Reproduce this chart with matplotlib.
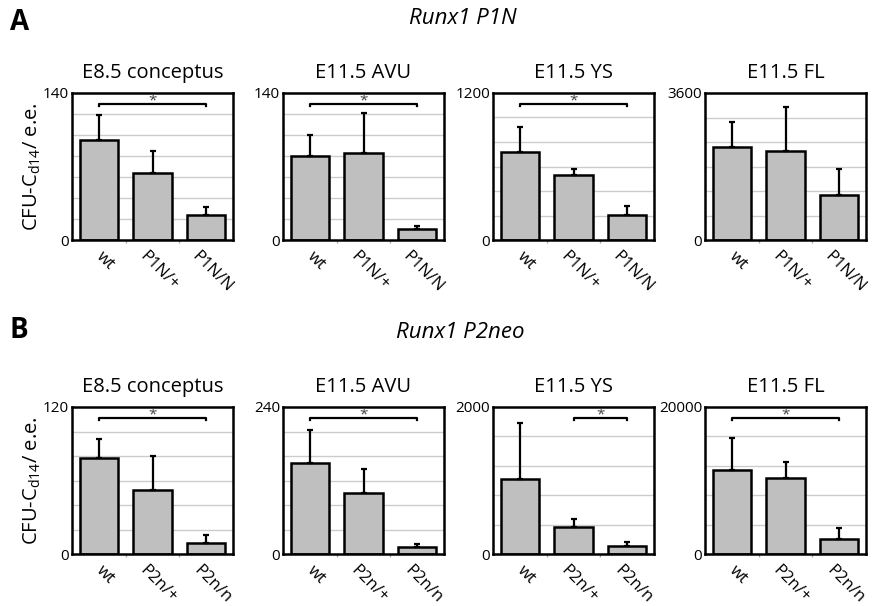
import matplotlib
matplotlib.use("Agg")
import matplotlib.pyplot as plt
import matplotlib.transforms as mtransforms
import numpy as np

plt.rcParams['font.family'] = ['Open Sans', 'DejaVu Sans']

titles = ["E8.5 conceptus", "E11.5 AVU", "E11.5 YS", "E11.5 FL"]

cats_a = ["wt", "P1N/+", "P1N/N"]
cats_b = ["wt", "P2n/+", "P2n/n"]

# Row A: Runx1 P1N
a_vals = [[95, 64, 23.5], [80, 83, 10.5], [717, 529, 205], [2283, 2185, 1113]]
a_errs = [[24, 21, 7.5], [20, 38, 2.5], [202, 52, 73], [613, 1071, 638]]
a_ymax = [140, 140, 1200, 3600]
a_grid = [20, 20, 200, 600]
a_sig = [(0, 2), (0, 2), (0, 2), None]

# Row B: Runx1 P2neo
b_vals = [[78.7, 52, 9.2], [148, 100, 10.8], [1020, 373, 108], [11460, 10340, 2020]]
b_errs = [[15.5, 28, 6.3], [55, 39, 5], [769, 108, 58], [4360, 2200, 1530]]
b_ymax = [120, 240, 2000, 20000]
b_grid = [20, 40, 400, 4000]
b_sig = [(0, 2), (0, 2), (1, 2), (0, 2)]

fig = plt.figure(figsize=(8.77, 6.06), dpi=100)
W, H = 877, 606
lefts = [72, 283, 493, 705]
aw = 161
rows = [(93, 240), (407, 554)]
offset = mtransforms.ScaledTranslation(6 / 100, -3 / 100, fig.dpi_scale_trans)

def draw(ax, cats, vals, errs, ymax, gstep, sig):
    x = np.arange(len(cats))
    ax.set_xlim(-0.5, 2.5)
    ax.set_ylim(0, ymax)
    for g in np.arange(gstep, ymax, gstep):
        ax.axhline(g, color='#cccccc', lw=1.0, zorder=0)
    ax.bar(x, vals, width=0.72, color='#bfbfbf', edgecolor='black', lw=1.8, zorder=2)
    ax.errorbar(x, vals, yerr=[np.zeros(len(vals)), errs], fmt='none',
                ecolor='black', elinewidth=1.6, capsize=2, capthick=1.6, zorder=3)
    ax.set_yticks([0, ymax])
    ax.set_yticklabels(["0", str(ymax)], fontsize=11)
    ax.tick_params(axis='y', length=0, pad=2)
    ax.set_xticks(x)
    ax.set_xticklabels(cats, rotation=-45, ha='center', va='top', fontsize=12)
    ax.tick_params(axis='x', length=0, pad=4)
    for lab in ax.get_xticklabels():
        lab.set_transform(lab.get_transform() + offset)
    ax.set_xticks([0.5, 1.5], minor=True)
    ax.tick_params(axis='x', which='minor', length=2, color='#aaaaaa', width=1)
    for s in ax.spines.values():
        s.set_linewidth(1.8)
    if sig is not None:
        i, j = sig
        yb = ymax * 0.925
        d = ymax * 0.015
        ax.plot([x[i], x[i], x[j], x[j]], [yb - d, yb, yb, yb - d], color='black', lw=1.6, zorder=4)
        ax.text((x[i] + x[j]) / 2, yb - ymax * 0.03, "*", ha='center', va='bottom',
                fontsize=11, color='#444444')

for r, (cats, vals_l, errs_l, ymaxs, grids, sigs) in enumerate([
        (cats_a, a_vals, a_errs, a_ymax, a_grid, a_sig),
        (cats_b, b_vals, b_errs, b_ymax, b_grid, b_sig)]):
    top, bot = rows[r]
    for k in range(4):
        ax = fig.add_axes([lefts[k] / W, 1 - bot / H, aw / W, (bot - top) / H])
        draw(ax, cats, vals_l[k], errs_l[k], ymaxs[k], grids[k], sigs[k])
        ax.set_title(titles[k], fontsize=14.5, pad=11)
        if k == 0:
            ax.set_ylabel("CFU-C$_{\\mathregular{d14}}$/ e.e.", fontsize=14.5, labelpad=0)

fig.text(10 / W, 1 - 23 / H, "A", fontsize=20, fontweight='bold', va='center', ha='left')
fig.text(10 / W, 1 - 331 / H, "B", fontsize=20, fontweight='bold', va='center', ha='left')
fig.text(463 / W, 1 - 18 / H, "Runx1 P1N", fontsize=16, style='italic', va='center', ha='center')
fig.text(460 / W, 1 - 332 / H, "Runx1 P2neo", fontsize=16, style='italic', va='center', ha='center')

fig.savefig("out.png", dpi=100, facecolor='white')
